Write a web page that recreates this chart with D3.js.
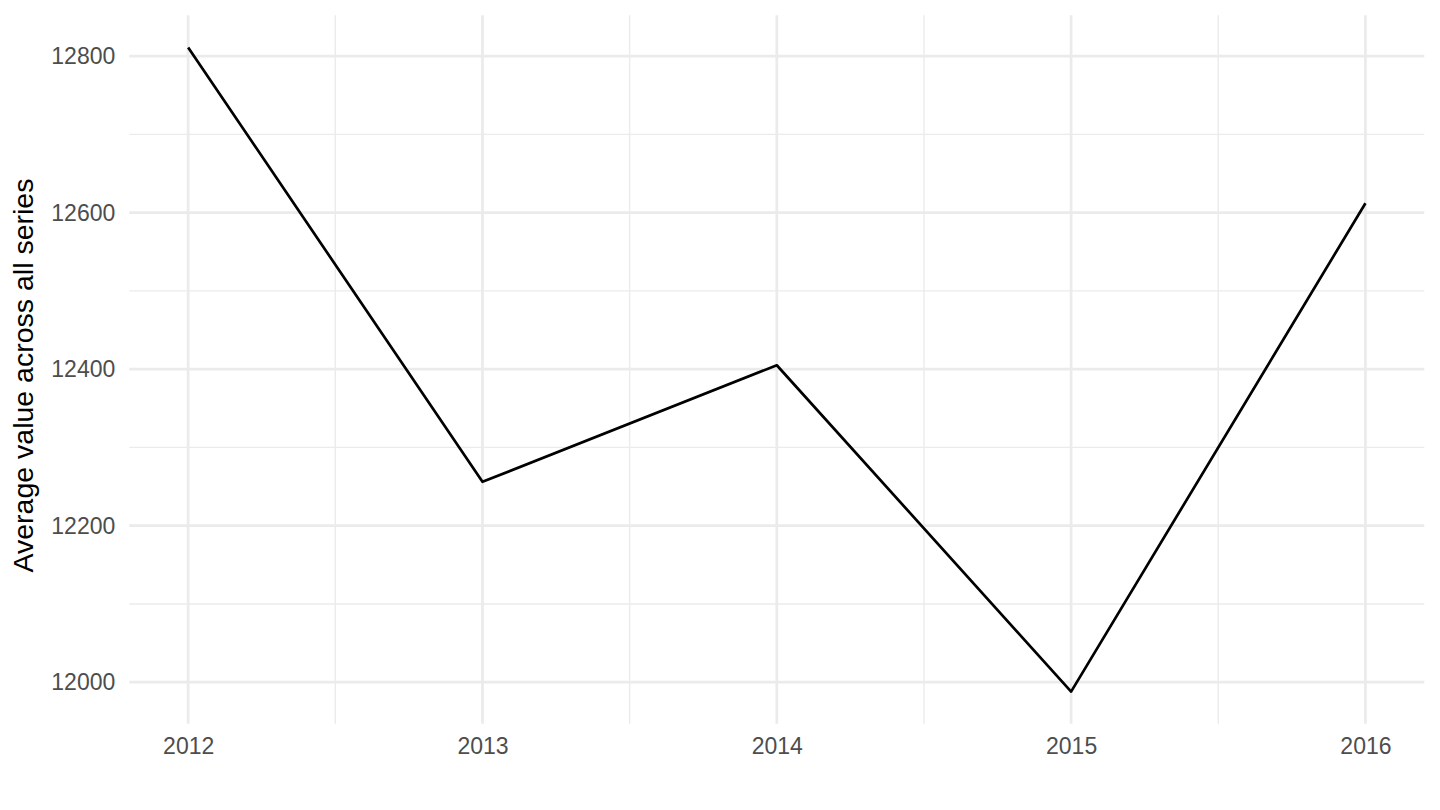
<!DOCTYPE html>
<html>
<head>
<meta charset="utf-8">
<script src="https://cdn.jsdelivr.net/npm/d3@7"></script>
<style>
  html, body { margin: 0; padding: 0; background: #fff; }
  svg { display: block; font-family: "Liberation Sans", Arial, Helvetica, sans-serif; }
</style>
</head>
<body>
<svg id="chart" width="1440" height="810"></svg>
<script>
const years = [2012, 2013, 2014, 2015, 2016];
const values = [12811, 12256, 12405, 11988, 12612];
const yTicks = [12000, 12200, 12400, 12600, 12800];
const yMinor = [12100, 12300, 12500, 12700];
const xMinor = [2012.5, 2013.5, 2014.5, 2015.5];
const yTitle = "Average value across all series";

const W = 1440, H = 810;
const panel = { left: 129.3, right: 1424.3, top: 15.3, bottom: 723.8 };

const svg = d3.select("#chart");

const xMin = d3.min(years), xMax = d3.max(years);
const xPad = (xMax - xMin) * 0.05;
const x = d3.scaleLinear().domain([xMin - xPad, xMax + xPad]).range([panel.left, panel.right]);

const yMinV = d3.min(values), yMaxV = d3.max(values);
const yPad = (yMaxV - yMinV) * 0.05;
const y = d3.scaleLinear().domain([yMinV - yPad, yMaxV + yPad]).range([panel.bottom, panel.top]);

const grid = svg.append("g");
// minor grid
grid.selectAll("line.ymin").data(yMinor).join("line")
  .attr("x1", panel.left).attr("x2", panel.right)
  .attr("y1", d => y(d)).attr("y2", d => y(d))
  .attr("stroke", "#EBEBEB").attr("stroke-width", 1.4);
grid.selectAll("line.xmin").data(xMinor).join("line")
  .attr("y1", panel.top).attr("y2", panel.bottom)
  .attr("x1", d => x(d)).attr("x2", d => x(d))
  .attr("stroke", "#EBEBEB").attr("stroke-width", 1.4);
// major grid
grid.selectAll("line.ymaj").data(yTicks).join("line")
  .attr("x1", panel.left).attr("x2", panel.right)
  .attr("y1", d => y(d)).attr("y2", d => y(d))
  .attr("stroke", "#EBEBEB").attr("stroke-width", 2.7);
grid.selectAll("line.xmaj").data(years).join("line")
  .attr("y1", panel.top).attr("y2", panel.bottom)
  .attr("x1", d => x(d)).attr("x2", d => x(d))
  .attr("stroke", "#EBEBEB").attr("stroke-width", 2.7);

// axes (text only)
const yAxis = d3.axisLeft(y).tickValues(yTicks).tickSize(0).tickPadding(14).tickFormat(d3.format("d"));
const gy = svg.append("g").attr("transform", `translate(${panel.left},0)`).call(yAxis);
gy.select(".domain").remove();
gy.selectAll("text").attr("fill", "#4D4D4D").style("font-size", "23px")
  .attr("font-family", "Liberation Sans, Arial, sans-serif");

const xAxis = d3.axisBottom(x).tickValues(years).tickSize(0).tickPadding(14).tickFormat(d3.format("d"));
const gx = svg.append("g").attr("transform", `translate(0,${panel.bottom})`).call(xAxis);
gx.select(".domain").remove();
gx.selectAll("text").attr("fill", "#4D4D4D").style("font-size", "23px")
  .attr("font-family", "Liberation Sans, Arial, sans-serif");

// line
const line = d3.line().x((d, i) => x(years[i])).y(d => y(d));
svg.append("path").datum(values)
  .attr("d", line)
  .attr("fill", "none").attr("stroke", "#000").attr("stroke-width", 2.7)
  .attr("stroke-linejoin", "round").attr("stroke-linecap", "butt");

// y title
svg.append("text")
  .attr("transform", `translate(33,${(panel.top + panel.bottom) / 2 + 6}) rotate(-90)`)
  .attr("text-anchor", "middle")
  .attr("fill", "#000")
  .style("font-size", "28.5px")
  .text(yTitle);
</script>
</body>
</html>
